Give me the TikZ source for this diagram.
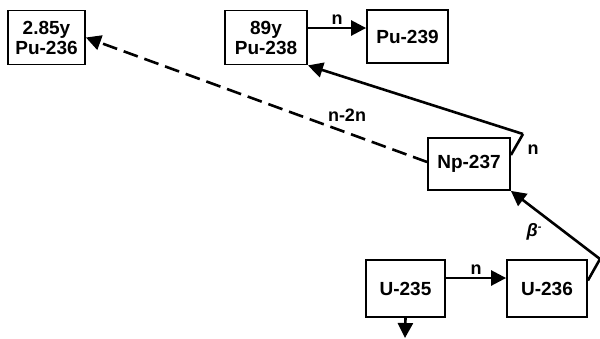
\documentclass[tikz,border=0pt]{standalone}
\usepackage{fontspec}
\setmainfont{Liberation Sans}
\usetikzlibrary{arrows.meta}
\begin{document}
\begin{tikzpicture}[x=1pt,y=-1pt,
  nuclide/.style={draw, line width=1.8pt, inner sep=0pt, align=center,
    font=\fontsize{19}{20}\selectfont\bfseries},
  arr/.style={line width=2.6pt, -{Triangle[length=15pt,width=15pt]}},
  link/.style={line width=2.6pt},
  lbl/.style={font=\fontsize{18}{20}\selectfont\bfseries, inner sep=1pt}]
\useasboundingbox (0,0) rectangle (600,338);

% nuclide boxes
\node[nuclide, minimum width=77pt, minimum height=54pt] (pu236) at (46.5,37.5) {2.85y\\Pu-236};
\node[nuclide, minimum width=82pt, minimum height=54pt] (pu238) at (266,37.5) {89y\\Pu-238};
\node[nuclide, minimum width=81pt, minimum height=53pt] (pu239) at (407.5,36.5) {Pu-239};
\node[nuclide, minimum width=82pt, minimum height=52pt] (np237) at (469,164) {Np-237};
\node[nuclide, minimum width=79pt, minimum height=57pt] (u235) at (405.5,288.5) {U-235};
\node[nuclide, minimum width=80pt, minimum height=57pt] (u236) at (547,288.5) {U-236};

% kinks and free ends
\coordinate (knp) at (523,134);
\coordinate (ku) at (600,259);
\coordinate (out) at (405,338);

% neutron capture Pu-238 -> Pu-239
\draw[arr] ([yshift=9.5pt]pu238.east) -- ([yshift=9.5pt]pu238.east -| pu239.west)
  node[lbl, midway, above=1pt] {n};

% n,2n from Np-237 to Pu-236
\draw[arr, dash pattern=on 15pt off 7pt] ([yshift=2pt]np237.west) -- (pu236.east);
\node[lbl] (n2n) at (347,115) {n-2n};

% Np-237 -> Pu-238
\draw[link] ([yshift=9pt]np237.east) -- (knp);
\draw[arr] (knp) -- (pu238.south east);
\node[lbl] (nl) at (533,150) {n};

% U-235 -> U-236
\draw[arr] ([yshift=10.5pt]u235.east) -- ([yshift=10.5pt]u235.east -| u236.west)
  node[lbl, midway, above=1pt] {n};

% beta decay U-236 -> Np-237
\draw[link] ([yshift=8pt]u236.east) -- (ku);
\draw[arr] (ku) -- (np237.south east);
\node[lbl] (beta) at (534,232) {\itshape β\raisebox{0.7ex}{\fontsize{11}{11}\selectfont -}};

% U-235 downward
\draw[arr] (u235.south) -- (out);
\end{tikzpicture}
\end{document}
